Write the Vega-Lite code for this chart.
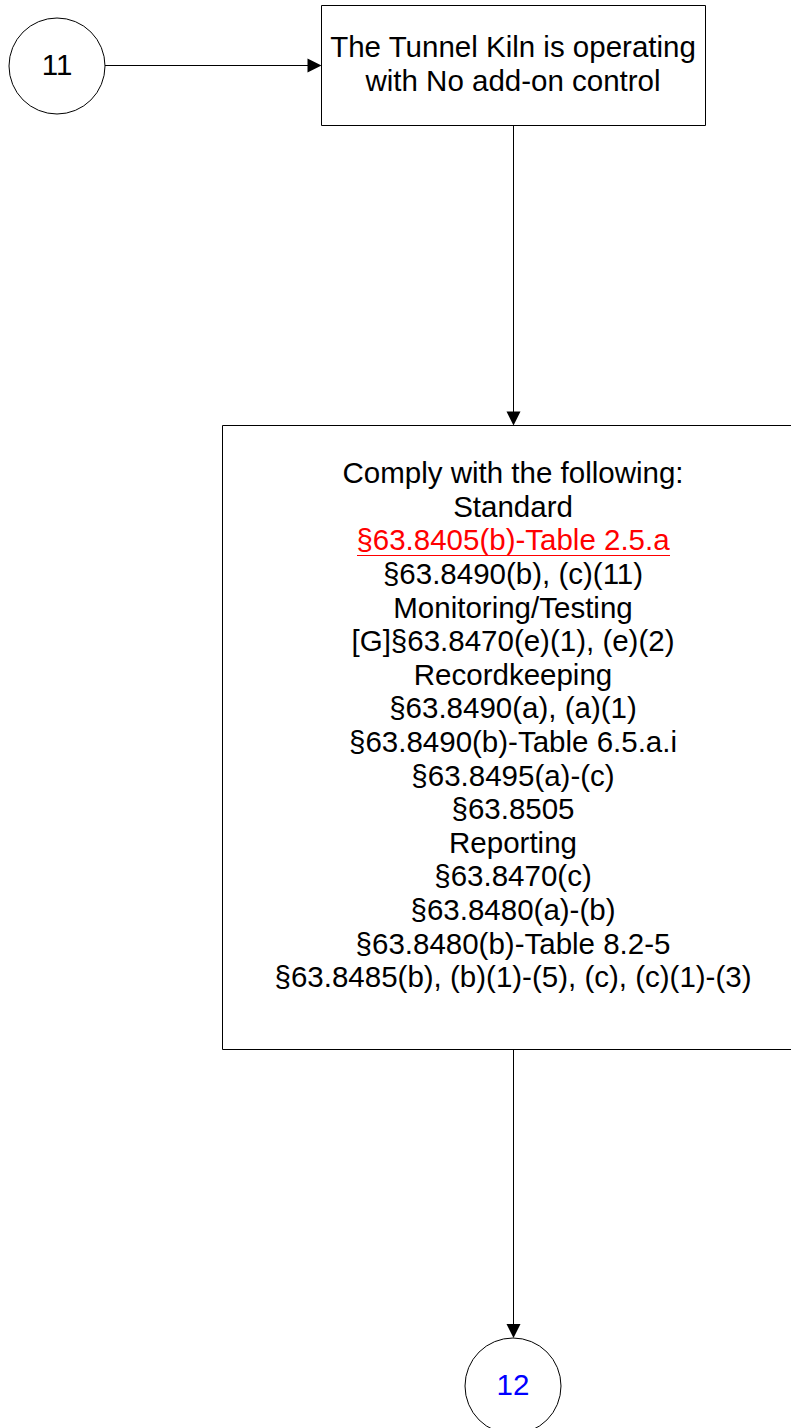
{
  "$schema": "https://vega.github.io/schema/vega-lite/v6.json",
  "width": 791,
  "height": 1428,
  "padding": 0,
  "autosize": {"type": "none"},
  "background": "white",
  "config": {"view": {"stroke": null}},
  "datasets": {
    "boxes": [
      {"id": "kiln", "x": 321.5, "x2": 705.5, "y": 5.5, "y2": 125.5},
      {"id": "comply", "x": 222.5, "x2": 803.5, "y": 425.5, "y2": 1049.5}
    ],
    "circles": [
      {"id": "11", "x": 57, "y": 66},
      {"id": "12", "x": 513, "y": 1386}
    ],
    "edges": [
      {"from": "11", "kind": "plain", "x": 105, "y": 65.5, "x2": 312, "y2": 65.5},
      {"from": "kiln", "kind": "plain", "x": 513.5, "y": 125.5, "x2": 513.5, "y2": 416},
      {"from": "comply", "kind": "plain", "x": 513.5, "y": 1049.5, "x2": 513.5, "y2": 1329},
      {"from": "underline", "kind": "link", "x": 357, "y": 555.5, "x2": 670, "y2": 555.5}
    ],
    "heads": [
      {"to": "kiln", "dir": "right", "x": 321.5, "y": 65.5},
      {"to": "comply", "dir": "down", "x": 513.5, "y": 425.5},
      {"to": "12", "dir": "down", "x": 513.5, "y": 1338}
    ],
    "labels": [
      {"node": "11", "kind": "plain", "x": 57, "y": 75, "text": "11"},
      {"node": "12", "kind": "connector", "x": 513, "y": 1395, "text": "12"},
      {"node": "kiln", "kind": "plain", "x": 513, "y": 57, "text": "The Tunnel Kiln is operating"},
      {"node": "kiln", "kind": "plain", "x": 513, "y": 91, "text": "with No add-on control"},
      {"node": "comply", "kind": "plain", "x": 513, "y": 483, "text": "Comply with the following:"},
      {"node": "comply", "kind": "plain", "x": 513, "y": 517, "text": "Standard"},
      {"node": "comply", "kind": "link", "x": 513, "y": 550, "text": "§63.8405(b)-Table 2.5.a"},
      {"node": "comply", "kind": "plain", "x": 513, "y": 584, "text": "§63.8490(b), (c)(11)"},
      {"node": "comply", "kind": "plain", "x": 513, "y": 618, "text": "Monitoring/Testing"},
      {"node": "comply", "kind": "plain", "x": 513, "y": 651, "text": "[G]§63.8470(e)(1), (e)(2)"},
      {"node": "comply", "kind": "plain", "x": 513, "y": 685, "text": "Recordkeeping"},
      {"node": "comply", "kind": "plain", "x": 513, "y": 718, "text": "§63.8490(a), (a)(1)"},
      {"node": "comply", "kind": "plain", "x": 513, "y": 752, "text": "§63.8490(b)-Table 6.5.a.i"},
      {"node": "comply", "kind": "plain", "x": 513, "y": 786, "text": "§63.8495(a)-(c)"},
      {"node": "comply", "kind": "plain", "x": 513, "y": 819, "text": "§63.8505"},
      {"node": "comply", "kind": "plain", "x": 513, "y": 853, "text": "Reporting"},
      {"node": "comply", "kind": "plain", "x": 513, "y": 886, "text": "§63.8470(c)"},
      {"node": "comply", "kind": "plain", "x": 513, "y": 920, "text": "§63.8480(a)-(b)"},
      {"node": "comply", "kind": "plain", "x": 513, "y": 954, "text": "§63.8480(b)-Table 8.2-5"},
      {"node": "comply", "kind": "plain", "x": 513, "y": 987, "text": "§63.8485(b), (b)(1)-(5), (c), (c)(1)-(3)"}
    ]
  },
  "encoding": {
    "x": {"type": "quantitative", "scale": {"domain": [0, 791], "nice": false, "zero": false}, "axis": null},
    "y": {"type": "quantitative", "scale": {"domain": [0, 1428], "nice": false, "zero": false, "reverse": true}, "axis": null}
  },
  "resolve": {"scale": {"color": "shared"}},
  "layer": [
    {
      "data": {"name": "boxes"},
      "mark": {"type": "rect", "fill": "white", "stroke": "black", "strokeWidth": 1, "clip": true},
      "encoding": {
        "x": {"field": "x", "type": "quantitative"},
        "x2": {"field": "x2"},
        "y": {"field": "y", "type": "quantitative"},
        "y2": {"field": "y2"}
      }
    },
    {
      "data": {"name": "circles"},
      "mark": {"type": "point", "shape": "circle", "filled": false, "stroke": "black", "strokeWidth": 1, "size": 9216, "opacity": 1, "clip": true},
      "encoding": {
        "x": {"field": "x", "type": "quantitative"},
        "y": {"field": "y", "type": "quantitative"}
      }
    },
    {
      "data": {"name": "edges"},
      "mark": {"type": "rule", "strokeWidth": 1},
      "encoding": {
        "x": {"field": "x", "type": "quantitative"},
        "x2": {"field": "x2"},
        "y": {"field": "y", "type": "quantitative"},
        "y2": {"field": "y2"},
        "color": {"field": "kind", "type": "nominal", "scale": {"domain": ["plain", "link", "connector"], "range": ["black", "#FF0000", "#0000FF"]}, "legend": null}
      }
    },
    {
      "data": {"name": "heads"},
      "mark": {"type": "point", "filled": true, "size": 196, "opacity": 1, "strokeWidth": 0, "color": "black"},
      "encoding": {
        "x": {"field": "x", "type": "quantitative"},
        "y": {"field": "y", "type": "quantitative"},
        "shape": {"field": "dir", "type": "nominal", "scale": {"domain": ["down", "right"], "range": ["M-1,-2L1,-2L0,0Z", "M-2,-1L-2,1L0,0Z"]}, "legend": null}
      }
    },
    {
      "data": {"name": "labels"},
      "mark": {"type": "text", "font": "Liberation Sans", "fontSize": 29.5, "align": "center", "baseline": "alphabetic"},
      "encoding": {
        "x": {"field": "x", "type": "quantitative"},
        "y": {"field": "y", "type": "quantitative"},
        "text": {"field": "text", "type": "nominal"},
        "color": {"field": "kind", "type": "nominal", "scale": {"domain": ["plain", "link", "connector"], "range": ["black", "#FF0000", "#0000FF"]}, "legend": null}
      }
    }
  ]
}
